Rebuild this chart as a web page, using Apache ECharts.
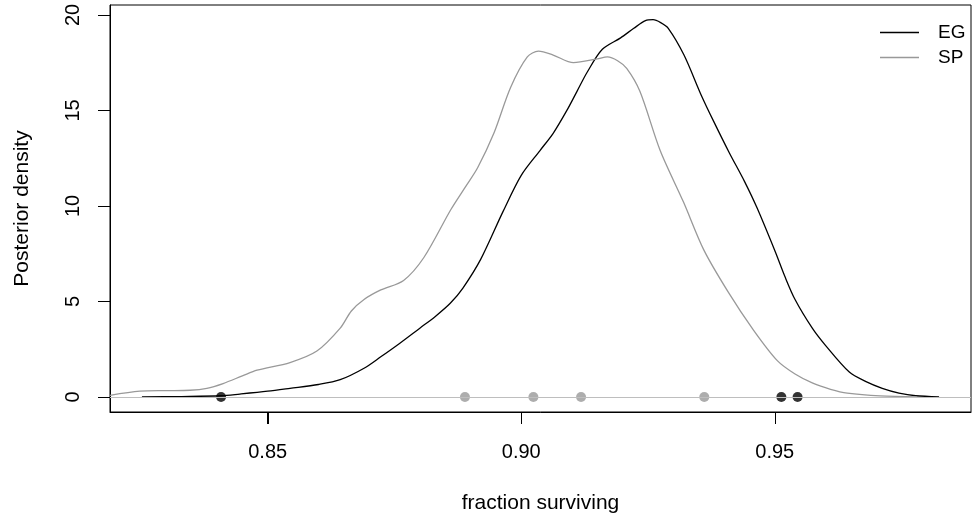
<!DOCTYPE html>
<html>
<head>
<meta charset="utf-8">
<script src="https://cdn.jsdelivr.net/npm/echarts@6/dist/echarts.min.js"></script>
<style>html,body{margin:0;padding:0;background:#fff;}#c{width:972px;height:519px;}</style>
</head>
<body>
<div id="c"></div>
<script>
// Posterior density curves: [fraction surviving, density]
const egCurve = [
  [0.8252,0],[0.8330,0.02],[0.8408,0.06],[0.8445,0.15],[0.8500,0.3],[0.8544,0.45],
  [0.8600,0.65],[0.8643,0.9],[0.8690,1.5],[0.8723,2.1],[0.8760,2.8],[0.8800,3.6],
  [0.8830,4.2],[0.8860,4.9],[0.8885,5.7],[0.8920,7.2],[0.8964,9.7],[0.9000,11.6],[0.9037,12.9],
  [0.9063,13.8],[0.9090,15.0],[0.9110,16.0],[0.9130,17.0],[0.9160,18.2],[0.9196,18.8],
  [0.9222,19.3],[0.9245,19.7],[0.9260,19.75],[0.9275,19.6],[0.9290,19.3],[0.9321,17.9],
  [0.9355,15.8],[0.9380,14.4],[0.9410,12.8],[0.9440,11.3],[0.9465,9.9],[0.9501,7.6],
  [0.9520,6.3],[0.9540,5.1],[0.9574,3.6],[0.9600,2.7],[0.9647,1.3],[0.9680,0.8],
  [0.9712,0.45],[0.9745,0.2],[0.9778,0.06],[0.9824,0.0]
];
const spCurve = [
  [0.8189,0.08],[0.8248,0.3],[0.8300,0.33],[0.8347,0.35],[0.8380,0.45],[0.8412,0.7],
  [0.8450,1.1],[0.8479,1.4],[0.8544,1.8],[0.8597,2.4],[0.8643,3.6],[0.8665,4.5],[0.8690,5.1],
  [0.8723,5.6],[0.8768,6.1],[0.8808,7.3],[0.8861,9.8],[0.8890,11.0],[0.8914,12.0],
  [0.8946,13.8],[0.8979,16.2],[0.9012,17.8],[0.9034,18.1],[0.9063,17.9],[0.9103,17.5],
  [0.9150,17.7],[0.9170,17.8],[0.9190,17.6],[0.9208,17.2],[0.9234,16.0],[0.9274,12.9],
  [0.9320,10.2],[0.9360,7.7],[0.9408,5.5],[0.9458,3.5],[0.9505,1.9],[0.9540,1.2],
  [0.9575,0.72],[0.9610,0.4],[0.9643,0.2],[0.9708,0.05],[0.9780,0.0]
];
// Point estimates shown on the zero line
const egPoints = [0.8408, 0.9513, 0.9545];
const spPoints = [0.8889, 0.9024, 0.9118, 0.9361];
const xTicks = [0.85, 0.90, 0.95];
const yTicks = [0, 5, 10, 15, 20];
const seriesNames = ['EG', 'SP'];
const xRange = [0.8189, 0.9887];
const yRange = [-0.79, 20.52];

const FONT = 'Liberation Sans, Arial, Helvetica, sans-serif';
const TICK_LEN = 12;
const chart = echarts.init(document.getElementById('c'), null, {renderer: 'canvas'});
chart.setOption({
  animation: false,
  grid: {left: 110, right: 1, top: 5, bottom: 107, show: true, borderColor: '#000', borderWidth: 1},
  legend: {
    orient: 'vertical', left: 880, top: 23, padding: 0, itemGap: 6,
    itemWidth: 39, itemHeight: 1.3, icon: 'rect',
    data: seriesNames,
    textStyle: {fontSize: 19, color: '#000', fontFamily: FONT, padding: [0,0,0,14]}
  },
  xAxis: {
    type: 'value', min: xRange[0], max: xRange[1],
    name: 'fraction surviving', nameLocation: 'middle', nameGap: 81,
    nameTextStyle: {fontSize: 21, color: '#000', fontFamily: FONT},
    axisLine: {show: true, onZero: false, lineStyle: {color: '#000', width: 1}},
    splitLine: {show: false},
    axisTick: {show: true, length: TICK_LEN, lineStyle: {color: '#000', width: 1}, customValues: xTicks},
    axisLabel: {margin: 30, fontSize: 20, color: '#000', fontFamily: FONT, customValues: xTicks,
      formatter: v => v.toFixed(2)}
  },
  yAxis: {
    type: 'value', min: yRange[0], max: yRange[1],
    name: 'Posterior density', nameLocation: 'middle', nameGap: 77, nameRotate: 90,
    nameTextStyle: {fontSize: 21, color: '#000', fontFamily: FONT},
    axisLine: {show: true, onZero: false, lineStyle: {color: '#000', width: 1}},
    splitLine: {show: false},
    axisTick: {show: true, length: TICK_LEN, lineStyle: {color: '#000', width: 1}, customValues: yTicks},
    axisLabel: {rotate: 90, margin: 27, fontSize: 20, color: '#000', fontFamily: FONT, customValues: yTicks}
  },
  series: [
    {
      name: 'EG', type: 'line', data: egCurve, smooth: 0.3, symbol: 'none', z: 3,
      lineStyle: {color: '#000', width: 1.3}, itemStyle: {color: '#000'},
      markLine: {silent: true, symbol: 'none', label: {show: false},
        lineStyle: {color: '#bebebe', width: 1.2, type: 'solid'}, data: [{yAxis: 0}]}
    },
    {
      name: 'SP', type: 'line', data: spCurve, smooth: 0.3, symbol: 'none', z: 3,
      lineStyle: {color: '#999999', width: 1.3}, itemStyle: {color: '#999999'}
    },
    {
      name: 'EG points', type: 'scatter', data: egPoints.map(v => [v, 0]), symbol: 'circle', symbolSize: 10, z: 4,
      itemStyle: {color: '#000'}
    },
    {
      name: 'SP points', type: 'scatter', data: spPoints.map(v => [v, 0]), symbol: 'circle', symbolSize: 10, z: 4,
      itemStyle: {color: '#999999'}
    }
  ]
});

// Outward tick marks placed through the axes' own scales
const bottomPx = chart.convertToPixel({yAxisIndex: 0}, yRange[0]);
const leftPx = chart.convertToPixel({xAxisIndex: 0}, xRange[0]);
const tickGraphics = [];
xTicks.forEach(v => {
  const px = Math.round(chart.convertToPixel({xAxisIndex: 0}, v)) + 0.5;
  tickGraphics.push({type: 'line', silent: true, z: 10,
    shape: {x1: px, y1: bottomPx, x2: px, y2: bottomPx + TICK_LEN},
    style: {stroke: '#000', lineWidth: 1}});
});
yTicks.forEach(v => {
  const py = Math.round(chart.convertToPixel({yAxisIndex: 0}, v)) + 0.5;
  tickGraphics.push({type: 'line', silent: true, z: 10,
    shape: {x1: leftPx - TICK_LEN, y1: py, x2: leftPx, y2: py},
    style: {stroke: '#000', lineWidth: 1}});
});
chart.setOption({graphic: tickGraphics});
</script>
</body>
</html>
